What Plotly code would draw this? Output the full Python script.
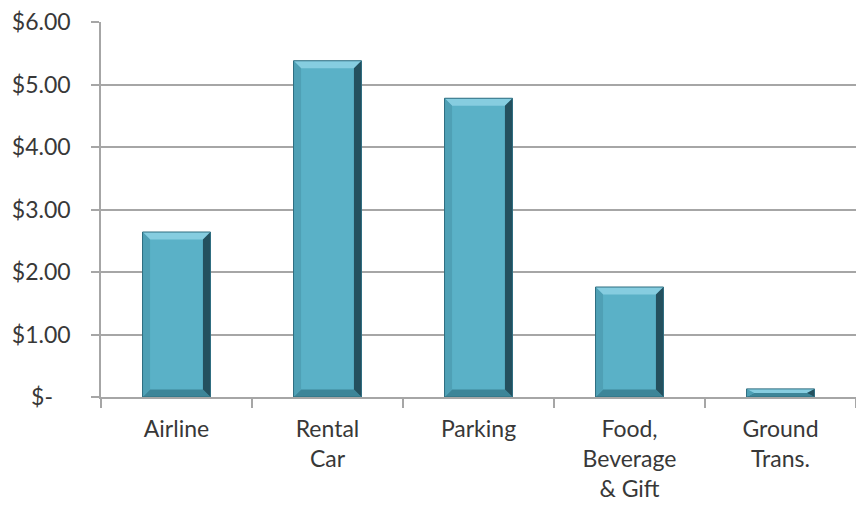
import plotly.graph_objects as go

categories = ["Airline", "Rental<br>Car", "Parking", "Food,<br>Beverage<br>& Gift", "Ground<br>Trans."]
values = [2.64, 5.38, 4.78, 1.76, 0.13]
tick_vals = [0, 1, 2, 3, 4, 5, 6]
tick_text = ["$-\u00a0\u00a0\u00a0", "$1.00", "$2.00", "$3.00", "$4.00", "$5.00", "$6.00"]

FACE = "#5AB1C7"
TOP = "#86CDE0"
LEFT = "#4FA0B5"
BOTTOM = "#3D8598"
RIGHT = "#24505E"
BAR_W = 0.45
INSET_X = 0.05
INSET_Y = 0.12

fig = go.Figure()
fig.add_trace(go.Bar(
    x=list(range(len(categories))), y=values, width=BAR_W,
    marker=dict(color=FACE, line=dict(width=0)),
    hoverinfo="skip",
))

shapes = []
for i, v in enumerate(values):
    x0, x1 = i - BAR_W / 2, i + BAR_W / 2
    iy = min(INSET_Y, v / 2)
    ix = INSET_X
    def poly(pts, color):
        d = "M " + " L ".join(f"{px},{py}" for px, py in pts) + " Z"
        shapes.append(dict(type="path", path=d, xref="x", yref="y",
                           fillcolor=color, line=dict(width=0), layer="above"))
    poly([(x0, v), (x1, v), (x1 - ix, v - iy), (x0 + ix, v - iy)], TOP)
    poly([(x0, 0), (x1, 0), (x1 - ix, iy), (x0 + ix, iy)], BOTTOM)
    poly([(x0, 0), (x0 + ix, iy), (x0 + ix, v - iy), (x0, v)], LEFT)
    poly([(x1, 0), (x1 - ix, iy), (x1 - ix, v - iy), (x1, v)], RIGHT)
    shapes.append(dict(type="rect", xref="x", yref="y", x0=x0, x1=x1, y0=0, y1=v,
                       line=dict(color="#2F6E80", width=1), fillcolor="rgba(0,0,0,0)", layer="above"))

# page body has an 8px margin, so the figure is sized/offset to compensate
fig.update_layout(
    width=848, height=494,
    margin=dict(l=93, r=0, t=14, b=105),
    paper_bgcolor="white", plot_bgcolor="white",
    font=dict(family="Lato, Open Sans, sans-serif", size=23, color="#383838"),
    showlegend=False,
    shapes=shapes,
    bargap=0.55,
)
fig.update_xaxes(
    range=[-0.5, len(categories) - 0.5],
    tickmode="array", tickvals=list(range(len(categories))), ticktext=categories,
    showgrid=False, zeroline=False,
    showline=True, linecolor="#A6A6A6", linewidth=1.5,
    ticks="", tickfont=dict(size=23), ticklabelstandoff=11,
    automargin=False,
)
fig.update_xaxes(minor=dict(tickmode="array",
                            tickvals=[i - 0.5 for i in range(len(categories) + 1)],
                            ticks="outside", ticklen=9, tickcolor="#A6A6A6", tickwidth=1.5,
                            showgrid=False))
fig.update_yaxes(
    range=[0, 6], tickmode="array", tickvals=tick_vals, ticktext=tick_text,
    showgrid=True, gridcolor="#A6A6A6", gridwidth=1.5,
    zeroline=False, showline=True, linecolor="#A6A6A6", linewidth=1.5,
    ticks="outside", ticklen=8, tickcolor="#A6A6A6", tickwidth=1.5,
    ticklabelstandoff=16, tickfont=dict(size=23),
    ticklabeloverflow="allow",
    automargin=False,
)

fig.write_html("out.html")
